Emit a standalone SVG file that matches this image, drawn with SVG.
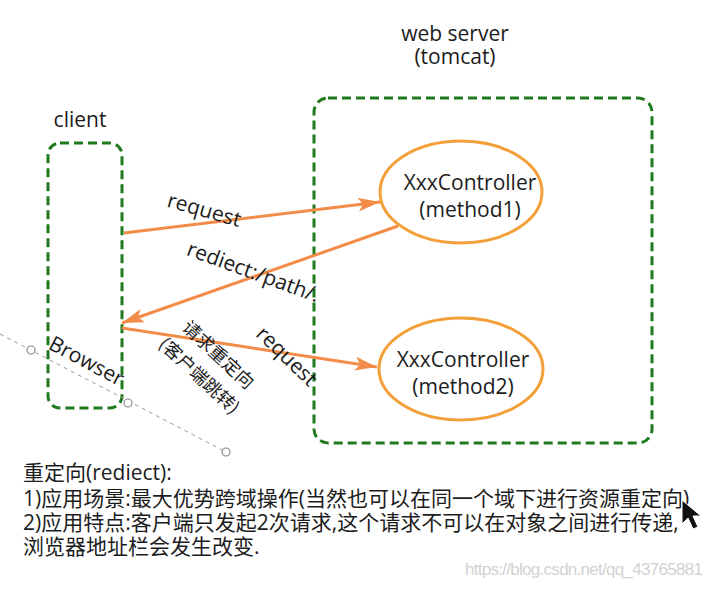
<svg xmlns="http://www.w3.org/2000/svg" width="714" height="589" viewBox="0 0 714 589">
<style>
text{font-family:"Open Sans","Liberation Sans","Noto Sans CJK SC",sans-serif;fill:#1c1c1c;}
.lbl{font-size:21px;}
.cjk{font-size:18px;font-family:"Noto Sans CJK SC","Open Sans",sans-serif;}
.note{font-size:21px;}
.box{fill:none;stroke:#1f7a1f;stroke-width:3;stroke-dasharray:9 5;}
.ell{fill:#fff;stroke:#f3a03a;stroke-width:3;}
.arr{fill:none;stroke:#f28c48;stroke-width:3;marker-end:url(#ah);}
.guide{fill:none;stroke:#9a9a9a;stroke-width:1;stroke-dasharray:4 4;}
.hnd{fill:#fff;stroke:#8a8a8a;stroke-width:1.2;}
</style>
<defs>
<marker id="ah" markerUnits="userSpaceOnUse" markerWidth="24" markerHeight="14" refX="22" refY="7" orient="auto" viewBox="0 0 24 14">
<path d="M0,0 L22,7 L0,14 L5,7 Z" fill="#f28c48"/>
</marker>
</defs>
<rect width="714" height="589" fill="#fff"/>

<g id="client">
<text class="lbl" x="80" y="127" text-anchor="middle">client</text>
<rect class="box" x="48" y="143" width="74" height="265" rx="12"/>
</g>

<g id="server">
<text class="lbl" x="455" y="41" text-anchor="middle">web server</text>
<text class="lbl" x="455" y="64" text-anchor="middle">(tomcat)</text>
<rect class="box" x="314" y="98" width="338" height="345" rx="14"/>
</g>

<g id="method1">
<ellipse class="ell" cx="461" cy="192" rx="81" ry="51"/>
<text class="lbl" x="470" y="190" text-anchor="middle">XxxController</text>
<text class="lbl" x="470" y="217" text-anchor="middle">(method1)</text>
</g>

<g id="method2">
<ellipse class="ell" cx="461" cy="369" rx="82" ry="51"/>
<text class="lbl" x="463" y="367" text-anchor="middle">XxxController</text>
<text class="lbl" x="463" y="394" text-anchor="middle">(method2)</text>
</g>

<g id="guide">
<path class="guide" d="M0,334 L226,452"/>
<circle class="hnd" cx="31" cy="350" r="4"/>
<circle class="hnd" cx="128" cy="403" r="4"/>
<circle class="hnd" cx="226" cy="452" r="4"/>
</g>

<g id="connectors">
<path class="arr" d="M124,233 L380,202"/>
<path class="arr" d="M398,226 L122,323"/>
<path class="arr" d="M122,328 L377,367"/>
</g>

<g id="labels">
<text class="lbl" transform="translate(204,211) rotate(16)" x="0" y="6" text-anchor="middle">request</text>
<text class="lbl" transform="translate(253,273) rotate(20)" x="0" y="6" text-anchor="middle">rediect:/path/.</text>
<text class="lbl" transform="translate(86,362) rotate(28)" x="0" y="6" text-anchor="middle">Browser</text>
<text class="lbl" transform="translate(286,357) rotate(44)" x="0" y="6" text-anchor="middle">request</text>
<text class="cjk" transform="translate(218,355) rotate(43)" x="0" y="6" text-anchor="middle">请求重定向</text>
<text class="cjk" transform="translate(199,376) rotate(43)" x="0" y="6" text-anchor="middle">(客户端跳转)</text>
</g>

<g id="notes">
<text class="note" x="23" y="480">重定向(rediect):</text>
<text class="note" x="23" y="506">1)应用场景:最大优势跨域操作(当然也可以在同一个域下进行资源重定向)</text>
<text class="note" x="23" y="530">2)应用特点:客户端只发起2次请求,这个请求不可以在对象之间进行传递,</text>
<text class="note" x="23" y="554">浏览器地址栏会发生改变.</text>
<text x="465" y="575" style="font-family:'Liberation Sans',sans-serif;font-size:17px;fill:#d2d2d2" textLength="238">https://blog.csdn.net/qq_43765881</text>
</g>

<path d="M682,500 L682,524 L688,518 L693,529 L698,527 L693,516 L701,516 Z" fill="#111" stroke="#fff" stroke-width="1"/>
</svg>
